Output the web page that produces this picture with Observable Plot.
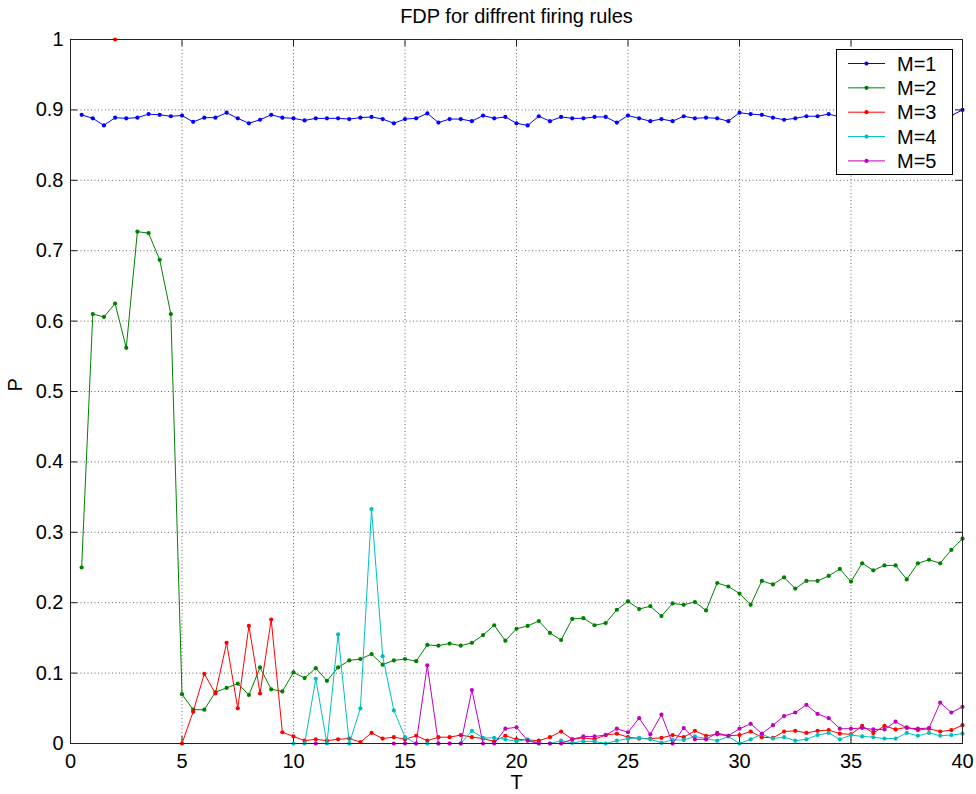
<!DOCTYPE html>
<html>
<head>
<meta charset="utf-8">
<script src="https://cdn.jsdelivr.net/npm/d3@7"></script>
<script src="https://cdn.jsdelivr.net/npm/@observablehq/plot@0.6"></script>
<style>
  html, body { margin: 0; padding: 0; background: #fff; }
</style>
</head>
<body>
<div id="chart"></div>
<script>
const title = "FDP for diffrent firing rules";
const xLabel = "T";
const yLabel = "P";

const T = [
  0.5, 1, 1.5, 2, 2.5, 3, 3.5, 4, 4.5, 5,
  5.5, 6, 6.5, 7, 7.5, 8, 8.5, 9, 9.5, 10,
  10.5, 11, 11.5, 12, 12.5, 13, 13.5, 14, 14.5, 15,
  15.5, 16, 16.5, 17, 17.5, 18, 18.5, 19, 19.5, 20,
  20.5, 21, 21.5, 22, 22.5, 23, 23.5, 24, 24.5, 25,
  25.5, 26, 26.5, 27, 27.5, 28, 28.5, 29, 29.5, 30,
  30.5, 31, 31.5, 32, 32.5, 33, 33.5, 34, 34.5, 35,
  35.5, 36, 36.5, 37, 37.5, 38, 38.5, 39, 39.5, 40
];

const M1 = [
  0.893, 0.888, 0.878, 0.889, 0.888, 0.889, 0.894, 0.893, 0.891, 0.892,
  0.883, 0.889, 0.889, 0.896, 0.888, 0.881, 0.886, 0.893, 0.889, 0.888,
  0.885, 0.888, 0.888, 0.888, 0.887, 0.889, 0.890, 0.887, 0.881, 0.887,
  0.888, 0.895, 0.882, 0.887, 0.887, 0.884, 0.892, 0.888, 0.890, 0.881,
  0.878, 0.891, 0.884, 0.890, 0.888, 0.888, 0.890, 0.890, 0.882, 0.892,
  0.888, 0.884, 0.887, 0.884, 0.891, 0.888, 0.889, 0.888, 0.884, 0.896,
  0.894, 0.893, 0.889, 0.886, 0.888, 0.891, 0.891, 0.894, 0.890, 0.888,
  0.890, 0.887, 0.889, 0.891, 0.888, 0.889, 0.887, 0.890, 0.892, 0.900
];

const M2 = [
  0.250, 0.610, 0.606, 0.625, 0.562, 0.727, 0.725, 0.687, 0.610, 0.070,
  0.048, 0.048, 0.073, 0.079, 0.085, 0.069, 0.108, 0.077, 0.074, 0.101,
  0.093, 0.107, 0.089, 0.108, 0.118, 0.120, 0.127, 0.112, 0.118, 0.120,
  0.117, 0.140, 0.139, 0.142, 0.139, 0.143, 0.154, 0.168, 0.146, 0.163,
  0.167, 0.174, 0.157, 0.147, 0.177, 0.178, 0.168, 0.171, 0.190, 0.202,
  0.191, 0.195, 0.181, 0.199, 0.197, 0.201, 0.189, 0.228, 0.223, 0.213,
  0.197, 0.231, 0.226, 0.236, 0.220, 0.231, 0.231, 0.238, 0.248, 0.230,
  0.256, 0.246, 0.253, 0.253, 0.233, 0.256, 0.261, 0.256, 0.275, 0.291
];

const M3 = [
  null, null, null, 1.000, null, null, null, null, null, 0.000,
  0.045, 0.099, 0.071, 0.143, 0.050, 0.167, 0.071, 0.176, 0.016, 0.010,
  0.004, 0.006, 0.004, 0.006, 0.007, 0.002, 0.015, 0.007, 0.009, 0.006,
  0.011, 0.004, 0.009, 0.009, 0.012, 0.009, 0.007, 0.003, 0.011, 0.006,
  0.005, 0.004, 0.009, 0.017, 0.006, 0.008, 0.006, 0.012, 0.014, 0.009,
  0.007, 0.007, 0.008, 0.012, 0.009, 0.018, 0.011, 0.013, 0.011, 0.012,
  0.017, 0.009, 0.008, 0.017, 0.018, 0.015, 0.018, 0.019, 0.014, 0.013,
  0.025, 0.015, 0.025, 0.020, 0.023, 0.019, 0.021, 0.017, 0.019, 0.026
];

const M4 = [
  null, null, null, null, null, null, null, null, null, null,
  null, null, null, null, null, null, null, null, null, 0.000,
  0.000, 0.092, 0.000, 0.155, 0.000, 0.050, 0.333, 0.124, 0.047, 0.009,
  0.000, 0.000, 0.000, 0.000, 0.000, 0.018, 0.008, 0.008, 0.006, 0.003,
  0.006, 0.000, 0.000, 0.004, 0.001, 0.003, 0.003, 0.000, 0.004, 0.007,
  0.008, 0.006, 0.001, 0.005, 0.005, 0.010, 0.007, 0.004, 0.010, 0.000,
  0.006, 0.013, 0.007, 0.009, 0.004, 0.006, 0.012, 0.015, 0.006, 0.012,
  0.010, 0.009, 0.007, 0.007, 0.015, 0.011, 0.015, 0.011, 0.012, 0.014
];

const M5 = [
  null, null, null, null, null, null, null, null, null, null,
  null, null, null, null, null, null, null, null, null, null,
  null, 0.000, null, null, null, null, null, null, 0.000, 0.000,
  0.000, 0.111, 0.000, 0.000, 0.000, 0.076, 0.000, 0.000, 0.021, 0.023,
  0.004, 0.000, 0.000, 0.000, 0.006, 0.010, 0.010, 0.012, 0.021, 0.016,
  0.036, 0.013, 0.041, 0.000, 0.022, 0.006, 0.006, 0.015, 0.011, 0.021,
  0.028, 0.014, 0.026, 0.039, 0.044, 0.055, 0.042, 0.036, 0.021, 0.021,
  0.022, 0.020, 0.020, 0.031, 0.022, 0.021, 0.022, 0.058, 0.044, 0.052
];

const seriesNames = ["M=1", "M=2", "M=3", "M=4", "M=5"];
const seriesColors = ["#0000ff", "#008000", "#ff0000", "#00bfbf", "#bf00bf"];
const xTicks = [0, 5, 10, 15, 20, 25, 30, 35, 40];
const yTicks = [0, 0.1, 0.2, 0.3, 0.4, 0.5, 0.6, 0.7, 0.8, 0.9, 1];

// layout
const W = 976, H = 794;
const mL = 70, mR = 14, mT = 39, mB = 51;
const frameW = W - mL - mR, frameH = H - mT - mB;
const tickLen = 7;
const font = "'Liberation Sans', Arial, Helvetica, sans-serif";
const axisColor = "#222";

const seriesValues = [M1, M2, M3, M4, M5];
const seriesMarks = [];
seriesValues.forEach((vals, i) => {
  const data = T.map((t, j) => ({T: t, P: vals[j], M: seriesNames[i]}));
  seriesMarks.push(Plot.line(data, {x: "T", y: "P", stroke: "M", strokeWidth: 1}));
  seriesMarks.push(Plot.dot(data.filter(d => d.P != null), {x: "T", y: "P", fill: "M", stroke: null, r: 2.1}));
});

const chart = Plot.plot({
  width: W,
  height: H,
  marginLeft: mL,
  marginRight: mR,
  marginTop: mT,
  marginBottom: mB,
  style: {fontFamily: font, fontSize: "20px", color: "#000", background: "#fff"},
  x: {domain: [0, 40], axis: null},
  y: {domain: [0, 1], axis: null},
  color: {domain: seriesNames, range: seriesColors},
  marks: [
    // dotted grid
    Plot.ruleX(xTicks, {x: d => d, stroke: "#333", strokeOpacity: 0.75, strokeDasharray: "1,2.5"}),
    Plot.ruleY(yTicks, {y: d => d, stroke: "#333", strokeOpacity: 0.75, strokeDasharray: "1,2.5"}),
    // inward ticks (bottom, top, left, right)
    Plot.tickX(xTicks, {x: d => d, insetTop: frameH - tickLen, stroke: axisColor}),
    Plot.tickX(xTicks, {x: d => d, insetBottom: frameH - tickLen, stroke: axisColor}),
    Plot.tickY(yTicks, {y: d => d, insetRight: frameW - tickLen, stroke: axisColor}),
    Plot.tickY(yTicks, {y: d => d, insetLeft: frameW - tickLen, stroke: axisColor}),
    // tick labels
    Plot.axisX(xTicks, {tickSize: 0, tickPadding: 10, label: null, fontSize: 20, tickFormat: d => String(d)}),
    Plot.axisY(yTicks, {tickSize: 0, tickPadding: 7, label: null, fontSize: 20, tickFormat: d => String(d)}),
    ...seriesMarks,
    Plot.frame({stroke: axisColor, strokeWidth: 1}),
    // title and axis labels
    Plot.text([title], {text: d => d, frameAnchor: "top", lineAnchor: "middle", dy: -23, fontSize: 20}),
    Plot.text([xLabel], {text: d => d, frameAnchor: "bottom", lineAnchor: "middle", dy: 39, fontSize: 20}),
    Plot.text([yLabel], {text: d => d, frameAnchor: "left", lineAnchor: "middle", dx: -55, rotate: -90, fontSize: 20})
  ]
});

document.getElementById("chart").appendChild(chart);

// legend box (top-right inside the axes)
const svg = d3.select(chart);
const boxW = 116, boxH = 125;
const boxX = mL + frameW - 10 - boxW;
const boxY = mT + 10;
const lg = svg.append("g")
  .attr("font-family", font)
  .attr("font-size", 20)
  .attr("text-anchor", "start");
lg.append("rect")
  .attr("x", boxX + 0.5).attr("y", boxY + 0.5)
  .attr("width", boxW).attr("height", boxH)
  .attr("fill", "#fff").attr("stroke", "#000").attr("stroke-width", 1);
seriesNames.forEach((name, i) => {
  const cy = boxY + 14.5 + i * 24.35;
  lg.append("line")
    .attr("x1", boxX + 12).attr("x2", boxX + 49)
    .attr("y1", cy).attr("y2", cy)
    .attr("stroke", seriesColors[i]).attr("stroke-width", 1);
  lg.append("circle")
    .attr("cx", boxX + 30.5).attr("cy", cy).attr("r", 2.1)
    .attr("fill", seriesColors[i]);
  lg.append("text")
    .attr("x", boxX + 61).attr("y", cy).attr("dy", "0.35em")
    .attr("text-anchor", "start")
    .attr("fill", "#000")
    .text(name);
});
</script>
</body>
</html>
